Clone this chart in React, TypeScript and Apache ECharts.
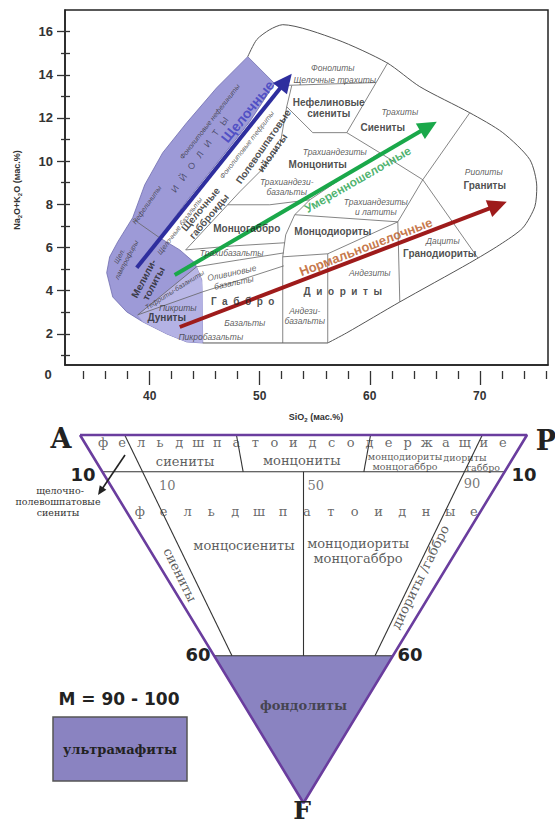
import React, { useEffect, useRef } from 'react';
import * as echarts from 'echarts';

const SANS = '"Liberation Sans", Arial, sans-serif';
const SERIF = '"DejaVu Serif", "Liberation Serif", serif';
const BSANS = '"DejaVu Sans", "Liberation Sans", sans-serif';

// ===================== TAS diagram: SiO2 vs Na2O+K2O (wt.%) =====================
const SIO2_MIN = 32.3;
const SIO2_MAX = 76.2;
const ALK_MIN = 0.56;
const ALK_MAX = 17;
const X_MAJOR_TICKS = [40, 50, 60, 70];
const X_MINOR_TICKS = [34, 36, 38, 42, 44, 46, 48, 52, 54, 56, 58, 62, 64, 66, 68, 72, 74, 76];
const Y_MAJOR_TICKS = [2, 4, 6, 8, 10, 12, 14, 16];
const Y_MINOR_TICKS = [1, 3, 5, 7, 9, 11, 13, 15];

type P = [number, number];

const FIELD_OUTLINE: P[] = [
  [48.91, 14.84], [49.73, 15.63], [50.91, 16.09], [52.09, 16.32], [57.0, 15.63], [61.55, 14.56],
  [64.55, 13.45], [69.09, 12.24], [72.09, 11.32], [74.55, 10.07], [75.18, 8.81], [75.0, 7.89],
  [73.91, 6.91], [71.82, 6.13], [69.09, 5.29], [62.73, 3.48], [57.91, 2.05], [56.18, 1.58],
];
const FIELD_BASE: P[] = [[56.18, 1.58], [44.82, 1.58]];

const ALKALINE_BAND: P[] = [
  [48.91, 14.84], [46.09, 13.4], [43.36, 11.78], [41.18, 10.39], [39.55, 8.91], [38.45, 7.38],
  [37.09, 6.26], [36.36, 5.57], [36.09, 4.83], [36.64, 3.71], [37.91, 3.02], [39.36, 2.56],
  [41.55, 2.0], [43.36, 1.63], [44.82, 1.58],
  [44.73, 4.5], [44.09, 5.29], [42.73, 5.89], [40.91, 6.45], [43.45, 8.21], [46.36, 10.07],
  [49.09, 11.83], [51.36, 13.59],
];
// lighter-shaded parts of the band: tephrite strip and picrite/dunite field
const TEPHRITE_STRIP: P[] = [[38.91, 2.88], [44.27, 5.11], [44.73, 4.5], [44.82, 3.95]];
const PICRITE_FIELD: P[] = [[38.91, 2.88], [44.82, 3.95], [44.82, 1.58], [43.36, 1.63], [41.55, 2.0], [39.36, 2.56]];

const FIELD_BOUNDARIES: P[][] = [
  [[51.82, 13.5], [60.55, 13.64]],
  [[61.64, 14.56], [57.91, 11.32]],
  [[52.45, 12.52], [54.82, 11.32], [57.91, 11.32]],
  [[52.91, 13.5], [52.45, 12.52], [51.82, 10.67], [50.18, 9.6], [48.18, 8.58], [45.64, 7.19], [43.27, 5.89]],
  [[57.91, 11.32], [60.91, 10.39], [64.82, 9.14]],
  [[69.09, 12.24], [64.82, 9.14], [69.82, 5.52]],
  [[64.82, 9.14], [62.55, 7.19], [62.73, 3.48]],
  [[62.55, 7.19], [56.18, 5.71], [52.09, 5.57]],
  [[56.18, 5.71], [56.18, 1.58]],
  [[52.09, 1.58], [52.09, 5.57], [52.36, 6.59], [53.18, 7.52], [54.55, 8.21]],
  [[54.55, 8.21], [60.91, 10.39]],
  [[53.18, 7.52], [62.55, 7.19]],
  [[47.09, 7.98], [50.91, 7.98], [54.55, 8.21]],
  [[43.27, 5.89], [47.73, 6.08], [52.27, 6.22]],
  [[44.27, 5.11], [48.18, 5.43], [52.18, 5.75]],
  [[44.82, 3.95], [48.55, 4.55], [52.18, 5.15]],
  [[38.91, 2.88], [44.27, 5.11]],
  [[38.91, 2.88], [44.82, 3.95]],
  [[38.45, 7.33], [40.91, 6.45]],
];

type Lbl = [string, number, number, number?];
const PLUTONIC_NAMES: Lbl[] = [
  ['Нефелиновые\nсиениты', 56.27, 12.48],
  ['Сиениты', 61.18, 11.55],
  ['Граниты', 70.45, 8.86],
  ['Монцониты', 55.27, 9.83],
  ['Монцодиориты', 56.64, 6.73],
  ['Монцогаббро', 48.82, 6.87],
  ['Гранодиориты', 66.36, 5.71],
  ['Д  и  о  р  и  т  ы', 57.55, 3.95],
  ['Г  а  б  б  р  о', 48.45, 3.48],
  ['Дуниты', 41.55, 2.74],
  ['Щелочные\nгабброиды', 45.0, 7.61, 50],
  ['Полевошпатовые\nийолиты', 50.73, 10.53, 55],
  ['Мелили-\nтолиты', 39.9, 4.45, 62],
];
const VOLCANIC_NAMES: Lbl[] = [
  ['Фонолиты', 56.64, 14.33],
  ['Щелочные трахиты', 56.82, 13.77],
  ['Трахиты', 62.73, 12.29],
  ['Риолиты', 70.36, 9.51],
  ['Трахиандезиты', 56.82, 10.44],
  ['Трахиандези-\nбазальты', 52.45, 8.81],
  ['Трахиандезиты\nи латиты', 60.55, 7.89],
  ['Дациты', 66.64, 6.31],
  ['Андезиты', 60.0, 4.83],
  ['Андези-\nбазальты', 54.09, 2.83],
  ['Трахибазальты', 47.45, 5.75],
  ['Оливиновые\nбазальты', 47.55, 4.6, 12],
  ['Базальты', 48.64, 2.51],
  ['Пикробазальты', 45.55, 1.86],
  ['Пикриты', 42.55, 3.2],
];
const BAND_NAMES: Lbl[] = [
  ['Тефриты-базаниты', 42.27, 4.04, 32],
  ['Щел.\nлампрофиры', 37.55, 5.52, 62],
  ['Нефелиниты', 39.73, 7.98, 55],
  ['Фонолитовые нефелиниты', 45.45, 11.83, 52],
  ['Фонолитовые тефриты', 48.82, 10.76, 52],
  ['Щелочные базальты', 42.73, 7.0, 53],
];
const IJOLITE_NAME: Lbl = ['И   Й   О   Л   И   Т   Ы', 44.55, 10.3, 54];

const TREND_ARROWS: { from: P; to: P; color: string }[] = [
  { from: [38.82, 5.06], to: [52.91, 14.05], color: '#2e2e9e' },
  { from: [42.27, 4.73], to: [66.09, 11.83], color: '#1aa84a' },
  { from: [42.73, 2.32], to: [72.45, 8.12], color: '#9e1b1b' },
];
const TREND_NAMES: [string, number, number, number, string, number][] = [
  ['Щелочные', 48.9, 12.3, 51, '#3c3cc0', 14],
  ['Умеренношелочные', 58.91, 9.14, 30, '#22a04a', 12],
  ['Нормальношелочные', 59.64, 6.03, 21, '#b8561a', 13],
];

// ===================== Ternary A–P–F diagram (F %, P/(A+P) %) =====================
const F_LEVELS = [10, 60];
const TOP_ROW_RATIOS = [35, 65];
const LONG_RATIOS = [10, 90];
const MID_RATIOS = [50];
const ULTRA_F = 60;
const ROW_WORDS = [
  { word: 'фельдшпатоидсодержащие', f: 2.17, from: 4.15, to: 95.6 },
  { word: 'фельдшпатоидные', f: 20.9, from: 3.7, to: 98.2 },
];
type TLbl = { t: string; f: number; r: number; rot?: number; size?: number; lh?: number; bold?: boolean; color?: string };
const TRI_NAMES: TLbl[] = [
  { t: 'сиениты', f: 7.07, r: 21.5 },
  { t: 'монцониты', f: 6.8, r: 49.6 },
  { t: 'монцодиориты\nмонцогаббро', f: 7.3, r: 74.5, size: 9.5, lh: 10 },
  { t: 'диориты', f: 5.98, r: 88.4, size: 9.5 },
  { t: 'габбро', f: 8.7, r: 94, size: 9.5 },
  { t: '10', f: 13.6, r: 14.7, color: '#555' },
  { t: '50', f: 13.6, r: 53.2, color: '#555' },
  { t: '90', f: 13.3, r: 93.5, color: '#555' },
  { t: 'монцосиениты', f: 29.9, r: 31.0 },
  { t: 'монцодиориты\nмонцогаббро', f: 31.4, r: 67.8, lh: 15 },
  { t: 'сиениты', f: 38.0, r: 5.4, rot: -63.7 },
  { t: 'диориты /габбро', f: 38.6, r: 92.5, rot: 63.7 },
  { t: 'фондолиты', f: 73.4, r: 50, bold: true },
];
// annotation arrow (cartesian fraction of triangle box)
const NOTE_ARROW: { from: P; to: P } = { from: [0.1007, 0.0543], to: [0.0403, 0.163] };

const tern = (fPct: number, rPct: number): P => {
  const f = fPct / 100;
  const r = rPct / 100;
  return [f / 2 + r * (1 - f), f];
};

function polygonSeries(points: P[], ax: number, style: any, z: number) {
  return {
    type: 'custom', coordinateSystem: 'cartesian2d', xAxisIndex: ax, yAxisIndex: ax, data: [0], silent: true, z,
    renderItem: (_p: any, api: any) => ({
      type: 'polygon',
      shape: { points: points.map((p) => api.coord(p)) },
      style,
    }),
  };
}

function lineSeries(points: P[], ax: number, color: string, width: number, z = 3, smooth: any = false) {
  return {
    type: 'line', xAxisIndex: ax === 0 ? 0 : 3, yAxisIndex: ax === 0 ? 0 : 3, data: points, showSymbol: false, symbol: 'none',
    smooth, lineStyle: { color, width }, silent: true, z, clip: false,
  };
}

function arrowSeries(from: P, to: P, ax: number, color: string, width: number, L: number, W: number, z = 6) {
  return {
    type: 'custom', coordinateSystem: 'cartesian2d', xAxisIndex: ax, yAxisIndex: ax, data: [0], silent: true, z,
    renderItem: (_p: any, api: any) => {
      const p0 = api.coord(from);
      const p1 = api.coord(to);
      const dx = p1[0] - p0[0];
      const dy = p1[1] - p0[1];
      const len = Math.hypot(dx, dy);
      const ux = dx / len;
      const uy = dy / len;
      const bx = p1[0] - ux * L;
      const by = p1[1] - uy * L;
      return {
        type: 'group',
        children: [
          { type: 'line', shape: { x1: p0[0], y1: p0[1], x2: bx + ux * 2, y2: by + uy * 2 }, style: { stroke: color, lineWidth: width } },
          { type: 'polygon', shape: { points: [[p1[0], p1[1]], [bx - uy * W, by + ux * W], [bx + uy * W, by - ux * W]] }, style: { fill: color } },
        ],
      };
    },
  };
}

function textSeries(items: { v: P; t: string; rot?: number; extra?: any }[], ax: number, base: any, z = 8) {
  return {
    type: 'scatter', xAxisIndex: ax, yAxisIndex: ax, symbolSize: 1, silent: true, z, clip: false,
    itemStyle: { color: 'rgba(0,0,0,0)' },
    data: items.map((it) => ({
      value: it.v,
      label: { show: true, position: 'inside', formatter: it.t, rotate: it.rot || 0, ...base, ...(it.extra || {}) },
    })),
  };
}

const lbl = (arr: Lbl[]) => arr.map((l) => ({ v: [l[1], l[2]] as P, t: l[0], rot: l[3] || 0 }));

function txt(text: string, x: number, y: number, size: number, weight: string, family: string, color = '#333') {
  return {
    type: 'text', x, y, z: 20,
    style: { text, fontSize: size, fontWeight: weight, fontFamily: family, fill: color, align: 'center', verticalAlign: 'middle' },
  };
}

function buildOption() {
  const series: any[] = [];
  // ---- TAS ----
  series.push(polygonSeries(ALKALINE_BAND, 0, { fill: '#9d9ad7', stroke: '#6f6cae', lineWidth: 0.8 }, 1));
  series.push(polygonSeries(TEPHRITE_STRIP, 0, { fill: '#b9b7e6' }, 1));
  series.push(polygonSeries(PICRITE_FIELD, 0, { fill: '#b4b2e4' }, 1));
  series.push(lineSeries(FIELD_OUTLINE, 0, '#555', 1, 3, 0.25));
  series.push(lineSeries(FIELD_BASE, 0, '#555', 1, 3));
  FIELD_BOUNDARIES.forEach((b) => series.push(lineSeries(b, 0, '#666', 0.8, 3)));
  TREND_ARROWS.forEach((a) => series.push(arrowSeries(a.from, a.to, 0, a.color, 4, 19, 9)));
  series.push(textSeries(lbl(PLUTONIC_NAMES), 0, { fontFamily: SANS, fontWeight: 'bold', fontSize: 10, color: '#222', lineHeight: 11 }));
  series.push(textSeries(lbl(VOLCANIC_NAMES), 0, { fontFamily: SANS, fontStyle: 'italic', fontSize: 8.5, color: '#333', lineHeight: 10 }));
  series.push(textSeries(lbl(BAND_NAMES), 0, { fontFamily: SANS, fontStyle: 'italic', fontSize: 7, color: '#333', lineHeight: 8 }));
  series.push(textSeries(lbl([IJOLITE_NAME]), 0, { fontFamily: SANS, fontSize: 9, color: '#3a3a55' }));
  series.push(textSeries(TREND_NAMES.map((t) => ({ v: [t[1], t[2]] as P, t: t[0], rot: t[3], extra: { color: t[4], fontSize: t[5] } })), 0,
    { fontFamily: SANS, fontWeight: 'bold' }, 9));

  // ---- Ternary ----
  series.push(polygonSeries([tern(ULTRA_F, 0), tern(ULTRA_F, 100), tern(100, 0)], 3, { fill: '#8a83c1' }, 1));
  F_LEVELS.forEach((f) => series.push(lineSeries([tern(f, 0), tern(f, 100)], 3, '#333', 1.1, 2)));
  TOP_ROW_RATIOS.forEach((r) => series.push(lineSeries([tern(0, r), tern(F_LEVELS[0], r)], 3, '#333', 1.1, 2)));
  LONG_RATIOS.forEach((r) => series.push(lineSeries([tern(0, r), tern(ULTRA_F, r)], 3, '#333', 1.1, 2)));
  MID_RATIOS.forEach((r) => series.push(lineSeries([tern(F_LEVELS[0], r), tern(ULTRA_F, r)], 3, '#333', 1.1, 2)));
  series.push(lineSeries([tern(0, 0), tern(0, 100), tern(100, 0), tern(0, 0)], 3, '#6a3d9e', 2.6, 4));
  series.push(arrowSeries(NOTE_ARROW.from, NOTE_ARROW.to, 3, '#222', 1.6, 9, 4, 6));

  const letters: { v: P; t: string }[] = [];
  ROW_WORDS.forEach((w) => {
    const chars = Array.from(w.word);
    chars.forEach((ch, i) => letters.push({ v: tern(w.f, w.from + ((w.to - w.from) * i) / (chars.length - 1)), t: ch }));
  });
  series.push(textSeries(letters, 3, { fontFamily: SERIF, fontSize: 13, color: '#444' }));
  series.push(textSeries(TRI_NAMES.map((n) => ({
    v: tern(n.f, n.r), t: n.t, rot: n.rot || 0,
    extra: { fontSize: n.size || 13, lineHeight: n.lh || 14, fontWeight: n.bold ? 'bold' : 'normal', color: n.color || '#333' },
  })), 3, { fontFamily: SERIF }));

  const richAxis = {
    a: { fontSize: 9, fontWeight: 'bold', fontFamily: SANS, fill: '#333', lineHeight: 12, verticalAlign: 'middle' },
    s: { fontSize: 6, fontWeight: 'bold', fontFamily: SANS, fill: '#333', lineHeight: 12, verticalAlign: 'bottom' },
  };

  return {
    animation: false,
    backgroundColor: '#fff',
    grid: [
      { left: 65, top: 10, width: 483, height: 355, show: true, borderColor: '#222', borderWidth: 1.5, backgroundColor: 'transparent' },
      { left: 80, top: 435, width: 447, height: 368, show: false },
    ],
    xAxis: [
      { gridIndex: 0, type: 'value', min: SIO2_MIN, max: SIO2_MAX, position: 'bottom', axisLine: { show: true, onZero: false, lineStyle: { color: '#222', width: 1.5 } }, axisTick: { show: false }, axisLabel: { show: false }, splitLine: { show: false } },
      { gridIndex: 0, type: 'value', min: SIO2_MIN, max: SIO2_MAX, position: 'bottom', offset: 6, axisLine: { show: false, onZero: false }, axisTick: { show: true, length: 14, customValues: X_MAJOR_TICKS, lineStyle: { color: '#333', width: 1.3 } }, axisLabel: { show: true, customValues: X_MAJOR_TICKS, margin: 19, fontSize: 12, fontWeight: 'bold', color: '#333', fontFamily: SANS }, splitLine: { show: false } },
      { gridIndex: 0, type: 'value', min: SIO2_MIN, max: SIO2_MAX, position: 'bottom', offset: 6, axisLine: { show: false, onZero: false }, axisTick: { show: true, length: 8, customValues: X_MINOR_TICKS, lineStyle: { color: '#333', width: 1.3 } }, axisLabel: { show: false }, splitLine: { show: false } },
      { gridIndex: 1, type: 'value', min: 0, max: 1, show: false, splitLine: { show: false } },
    ],
    yAxis: [
      { gridIndex: 0, type: 'value', min: ALK_MIN, max: ALK_MAX, position: 'left', axisLine: { show: true, onZero: false, lineStyle: { color: '#222', width: 1.5 } }, axisTick: { show: true, length: 8, customValues: Y_MAJOR_TICKS, lineStyle: { color: '#333', width: 1.3 } }, axisLabel: { show: true, customValues: Y_MAJOR_TICKS, margin: 12, fontSize: 13, fontWeight: 'bold', color: '#333', fontFamily: SANS }, splitLine: { show: false } },
      { gridIndex: 0, type: 'value', min: ALK_MIN, max: ALK_MAX, position: 'left', axisLine: { show: false, onZero: false }, axisTick: { show: true, length: 4, customValues: Y_MINOR_TICKS, lineStyle: { color: '#333', width: 1.3 } }, axisLabel: { show: false }, splitLine: { show: false } },
      { gridIndex: 0, type: 'value', min: ALK_MIN, max: ALK_MAX, position: 'left', axisLine: { show: false, onZero: false }, axisTick: { show: true, inside: true, length: 5, customValues: [...Y_MINOR_TICKS, ...Y_MAJOR_TICKS], lineStyle: { color: '#333', width: 1.3 } }, axisLabel: { show: false }, splitLine: { show: false } },
      { gridIndex: 1, type: 'value', min: 0, max: 1, inverse: true, show: false, splitLine: { show: false } },
    ],
    series,
    graphic: [
      txt('0', 48, 374, 13, 'bold', SANS),
      { type: 'text', x: 316, y: 417, z: 20, style: { text: '{a|SiO}{s|2}{a| (мас.%)}', rich: richAxis, align: 'center', verticalAlign: 'middle' } },
      { type: 'text', x: 17, y: 190, z: 20, rotation: Math.PI / 2, style: { text: '{a|Na}{s|2}{a|O+K}{s|2}{a|O (мас.%)}', rich: richAxis, align: 'center', verticalAlign: 'middle' } },
      txt('A', 61, 438, 27, 'bold', SERIF, '#222'),
      txt('P', 546, 440, 27, 'bold', SERIF, '#222'),
      txt('F', 302, 810, 25, 'bold', SERIF, '#222'),
      txt('10', 83, 474, 18, 'bold', BSANS, '#222'),
      txt('10', 524, 474, 18, 'bold', BSANS, '#222'),
      txt('60', 198, 654, 18, 'bold', BSANS, '#222'),
      txt('60', 410, 654, 18, 'bold', BSANS, '#222'),
      txt('M = 90 - 100', 119, 699, 17, 'bold', BSANS, '#222'),
      { type: 'rect', z: 15, shape: { x: 53, y: 717, width: 134, height: 64 }, style: { fill: '#8a83c1', stroke: '#555', lineWidth: 1.5 } },
      txt('ультрамафиты', 120, 749, 13, 'bold', SERIF, '#222'),
      txt('щелочно-', 60, 490, 9.5, 'normal', SERIF, '#333'),
      txt('полевошпатовые', 58, 501, 9.5, 'normal', SERIF, '#333'),
      txt('сиениты', 58, 512, 9.5, 'normal', SERIF, '#333'),
    ],
  };
}

export default function App() {
  const ref = useRef<HTMLDivElement>(null);
  useEffect(() => {
    const chart = echarts.init(ref.current as HTMLDivElement, undefined, { renderer: 'svg' });
    chart.setOption(buildOption() as any);
    return () => chart.dispose();
  }, []);
  return <div ref={ref} style={{ position: 'absolute', left: 0, top: 0, width: 555, height: 827, background: '#fff' }} />;
}
